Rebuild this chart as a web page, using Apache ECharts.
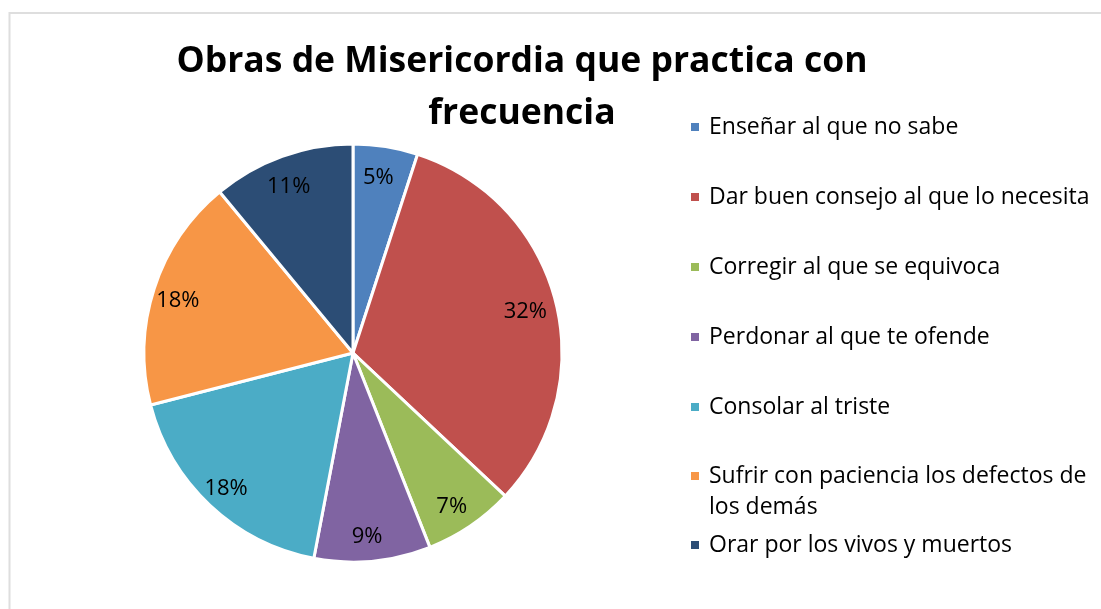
<!DOCTYPE html>
<html>
<head>
<meta charset="utf-8">
<script src="https://cdn.jsdelivr.net/npm/echarts@6/dist/echarts.min.js"></script>
<style>
  html, body { margin: 0; padding: 0; background: #fff; }
  #chart { width: 1101px; height: 609px; }
</style>
</head>
<body>
<div id="chart"></div>
<script>
var titleText = 'Obras de Misericordia que practica con\nfrecuencia'
var categories = [
  'Enseñar al que no sabe',
  'Dar buen consejo al que lo necesita',
  'Corregir al que se equivoca',
  'Perdonar al que te ofende',
  'Consolar al triste',
  'Sufrir con paciencia los defectos de los demás',
  'Orar por los vivos y muertos'
]
var values = [5, 32, 7, 9, 18, 18, 11]
var colors = ['#4f81bd', '#c0504d', '#9bbb59', '#8064a2', '#4bacc6', '#f79646', '#2c4d75']

var fontFamily = '"Open Sans", sans-serif'

// wrap long legend names like Excel does; a leading empty line keeps
// the marker level with the first line of text
function wrap (name) {
  var max = 36
  if (name.length <= max) return name
  var cut = name.lastIndexOf(' ', max)
  return '\n' + name.slice(0, cut) + '\n' + name.slice(cut + 1)
}

var pieData = categories.map(function (name, i) {
  return { name: name, value: values[i], itemStyle: { color: colors[i] } }
})

var legendBase = {
  orient: 'vertical',
  left: 689,
  padding: 0,
  itemWidth: 10,
  itemHeight: 10,
  itemGap: 39,
  icon: 'rect',
  selectedMode: false,
  textStyle: {
    fontFamily: fontFamily,
    fontSize: 23,
    lineHeight: 31,
    color: '#000',
    padding: [0, 0, 0, 4]
  },
  formatter: wrap
}

var option = {
  animation: false,
  color: colors,
  title: {
    text: titleText,
    left: 522,
    top: 36,
    padding: 0,
    textAlign: 'center',
    textStyle: {
      fontFamily: fontFamily,
      fontWeight: 'bold',
      fontSize: 35.5,
      lineHeight: 52,
      color: '#000'
    }
  },
  legend: [
    Object.assign({}, legendBase, { top: 111.5, data: categories.slice(0, 5) }),
    Object.assign({}, legendBase, { top: 429.5, data: categories.slice(5, 6) }),
    Object.assign({}, legendBase, { top: 529.5, data: categories.slice(6) })
  ],
  graphic: [
    {
      type: 'rect',
      shape: { x: 9.5, y: 13, width: 1200, height: 700 },
      style: { fill: 'none', stroke: '#dedede', lineWidth: 2 },
      silent: true
    }
  ],
  series: [
    {
      type: 'pie',
      center: [353, 353],
      radius: 209,
      startAngle: 90,
      clockwise: true,
      silent: true,
      label: { show: false },
      labelLine: { show: false },
      itemStyle: { borderColor: '#fff', borderWidth: 3 },
      emphasis: { disabled: true },
      data: pieData
    },
    {
      // transparent ring only used to place the value labels near the rim
      type: 'pie',
      center: [353, 353],
      radius: [147, 209],
      startAngle: 90,
      clockwise: true,
      silent: true,
      itemStyle: { color: 'transparent', borderWidth: 0 },
      emphasis: { disabled: true },
      label: {
        show: true,
        position: 'inside',
        formatter: '{c}%',
        fontFamily: fontFamily,
        fontSize: 22,
        color: '#000',
        offset: [-3, 4]
      },
      labelLine: { show: false },
      data: categories.map(function (name, i) {
        return { name: name, value: values[i] }
      })
    }
  ]
}

var chart = echarts.init(document.getElementById('chart'))
chart.setOption(option)
</script>
</body>
</html>
